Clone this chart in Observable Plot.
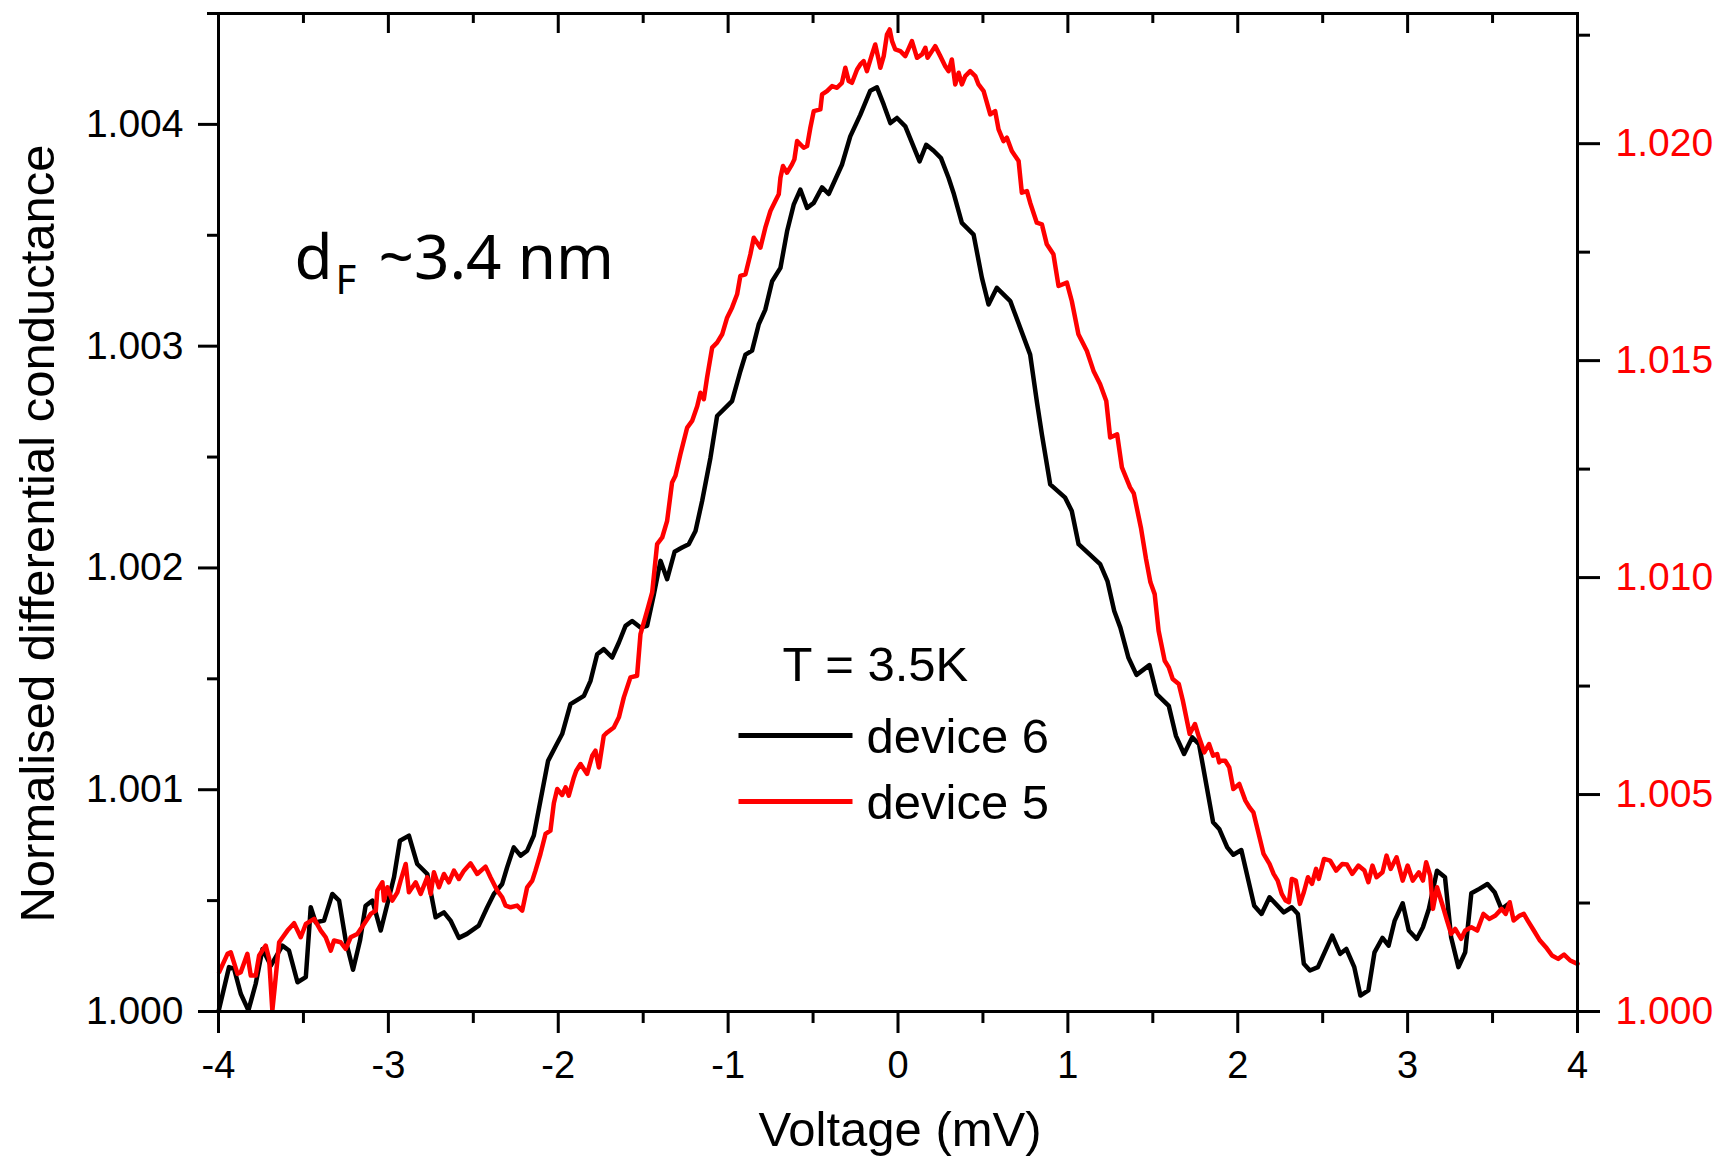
<!DOCTYPE html>
<html>
<head>
<meta charset="utf-8">
<script src="https://cdn.jsdelivr.net/npm/d3@7"></script>
<script src="https://cdn.jsdelivr.net/npm/@observablehq/plot@0.6"></script>
<style>
  html, body { margin: 0; padding: 0; background: #fff; }
  #chart svg { display: block; }
</style>
</head>
<body>
<div id="chart"></div>
<script>
// ---------------- DATA ----------------
// Voltage (mV) for device 6 (black, left axis)
const voltage6 = [
  -4.000,-3.938,-3.908,-3.869,-3.824,-3.781,-3.741,-3.692,-3.624,-3.585,
  -3.535,-3.486,-3.457,-3.428,-3.379,-3.330,-3.290,-3.251,-3.208,-3.167,
  -3.134,-3.094,-3.045,-2.996,-2.967,-2.932,-2.879,-2.830,-2.771,-2.722,
  -2.673,-2.634,-2.585,-2.537,-2.468,-2.418,-2.379,-2.330,-2.301,-2.262,
  -2.222,-2.183,-2.144,-2.105,-2.060,-2.016,-1.977,-1.928,-1.849,-1.810,
  -1.771,-1.732,-1.683,-1.643,-1.604,-1.565,-1.516,-1.477,-1.437,-1.398,
  -1.359,-1.315,-1.271,-1.232,-1.192,-1.153,-1.104,-1.065,-0.977,-0.928,
  -0.898,-0.859,-0.820,-0.781,-0.741,-0.692,-0.653,-0.614,-0.575,-0.535,
  -0.496,-0.447,-0.408,-0.330,-0.281,-0.222,-0.163,-0.124,-0.084,-0.045,
  -0.006,0.043,0.127,0.166,0.210,0.253,0.298,0.327,0.376,0.445,
  0.494,0.533,0.582,0.661,0.778,0.817,0.847,0.896,0.984,1.023,
  1.063,1.190,1.233,1.273,1.309,1.356,1.404,1.480,1.523,1.594,
  1.636,1.684,1.732,1.772,1.855,1.891,1.938,1.974,2.021,2.097,
  2.140,2.187,2.271,2.318,2.354,2.389,2.425,2.472,2.556,2.603,
  2.639,2.686,2.722,2.769,2.805,2.852,2.888,2.924,2.971,3.007,
  3.054,3.090,3.125,3.173,3.220,3.256,3.299,3.339,3.375,3.422,
  3.470,3.512,3.553,3.593
];
// Normalised conductance of device 6, in units of 1e-3 above 1
const dG6milli = [
  0.000,0.200,0.192,0.080,0.005,0.125,0.282,0.207,0.297,0.275,
  0.132,0.155,0.470,0.402,0.410,0.530,0.500,0.320,0.188,0.320,
  0.477,0.500,0.365,0.515,0.605,0.770,0.793,0.665,0.620,0.425,
  0.447,0.410,0.332,0.350,0.387,0.470,0.530,0.575,0.650,0.740,
  0.703,0.725,0.793,0.950,1.130,1.195,1.251,1.386,1.423,1.491,
  1.611,1.634,1.596,1.664,1.739,1.761,1.731,1.739,1.881,2.032,
  1.949,2.073,2.092,2.107,2.167,2.302,2.497,2.685,2.752,2.887,
  2.962,2.980,3.098,3.165,3.293,3.353,3.518,3.638,3.706,3.623,
  3.646,3.716,3.686,3.818,3.946,4.043,4.152,4.167,4.089,4.006,
  4.029,3.991,3.833,3.908,3.881,3.848,3.758,3.691,3.556,3.503,
  3.308,3.188,3.263,3.203,2.962,2.752,2.602,2.377,2.317,2.257,
  2.107,2.017,1.941,1.806,1.731,1.596,1.518,1.562,1.431,1.378,
  1.243,1.161,1.236,1.206,0.853,0.823,0.740,0.707,0.728,0.477,
  0.440,0.515,0.447,0.470,0.440,0.215,0.185,0.200,0.342,0.260,
  0.282,0.200,0.072,0.095,0.267,0.332,0.297,0.410,0.488,0.365,
  0.327,0.380,0.462,0.635,0.605,0.335,0.200,0.267,0.533,0.553,
  0.575,0.538,0.462,0.485
];
// Voltage (mV) for device 5 (red, right axis)
const voltage5 = [
  -3.996,-3.947,-3.928,-3.888,-3.869,-3.830,-3.810,-3.781,-3.761,-3.722,
  -3.702,-3.683,-3.669,-3.643,-3.594,-3.555,-3.516,-3.486,-3.437,-3.398,
  -3.369,-3.339,-3.320,-3.281,-3.251,-3.222,-3.183,-3.143,-3.104,-3.074,
  -3.065,-3.035,-3.026,-3.006,-2.977,-2.947,-2.928,-2.898,-2.879,-2.839,
  -2.810,-2.771,-2.751,-2.732,-2.702,-2.673,-2.644,-2.614,-2.585,-2.555,
  -2.516,-2.477,-2.428,-2.399,-2.359,-2.330,-2.310,-2.281,-2.242,-2.212,
  -2.183,-2.153,-2.134,-2.105,-2.075,-2.046,-2.026,-2.006,-1.977,-1.957,
  -1.938,-1.908,-1.894,-1.869,-1.830,-1.800,-1.781,-1.761,-1.732,-1.712,
  -1.673,-1.643,-1.614,-1.575,-1.536,-1.516,-1.477,-1.447,-1.418,-1.388,
  -1.359,-1.330,-1.310,-1.281,-1.241,-1.212,-1.182,-1.163,-1.143,-1.124,
  -1.094,-1.065,-1.035,-1.006,-0.977,-0.947,-0.928,-0.898,-0.869,-0.849,
  -0.810,-0.781,-0.751,-0.722,-0.702,-0.692,-0.677,-0.653,-0.624,-0.610,
  -0.594,-0.555,-0.535,-0.516,-0.496,-0.457,-0.447,-0.418,-0.388,-0.359,
  -0.330,-0.310,-0.290,-0.271,-0.241,-0.222,-0.202,-0.183,-0.153,-0.134,
  -0.114,-0.104,-0.084,-0.065,-0.049,-0.035,-0.016,0.014,0.043,0.082,
  0.112,0.141,0.161,0.174,0.200,0.219,0.249,0.278,0.298,0.317,
  0.337,0.357,0.376,0.396,0.425,0.455,0.474,0.504,0.543,0.572,
  0.592,0.621,0.641,0.670,0.710,0.729,0.759,0.778,0.817,0.847,
  0.876,0.915,0.945,0.994,1.023,1.062,1.112,1.151,1.190,1.226,
  1.249,1.290,1.318,1.366,1.388,1.430,1.460,1.486,1.511,1.534,
  1.570,1.594,1.617,1.653,1.677,1.701,1.717,1.748,1.772,1.803,
  1.831,1.855,1.879,1.891,1.902,1.926,1.950,1.974,2.009,2.045,
  2.069,2.092,2.128,2.152,2.187,2.211,2.235,2.259,2.282,2.301,
  2.318,2.342,2.366,2.389,2.413,2.437,2.461,2.477,2.508,2.544,
  2.579,2.615,2.643,2.674,2.710,2.746,2.769,2.793,2.817,2.852,
  2.876,2.900,2.935,2.971,3.000,3.030,3.066,3.090,3.109,3.133,
  3.149,3.173,3.209,3.232,3.256,3.280,3.315,3.339,3.375,3.410,
  3.446,3.482,3.517,3.553,3.577,3.601,3.624,3.660,3.684,3.707,
  3.743,3.779,3.814,3.850,3.886,3.921,3.957,4.000
];
// Normalised conductance of device 5, in units of 1e-3 above 1
const dG5milli = [
  0.906,1.328,1.366,0.867,0.906,1.328,0.829,0.829,1.289,1.520,
  1.213,0.023,0.560,1.596,1.865,2.034,1.711,2.018,2.134,1.865,
  1.711,1.404,1.635,1.596,1.443,1.711,1.788,2.018,2.249,2.325,
  2.786,2.978,2.556,2.863,2.556,2.747,3.016,3.400,2.747,2.978,
  2.709,3.093,2.709,3.208,2.863,3.170,2.978,3.246,3.054,3.246,
  3.415,3.170,3.338,3.093,2.786,2.632,2.441,2.402,2.441,2.325,
  2.863,3.016,3.246,3.630,4.091,4.167,4.800,5.127,4.990,5.165,
  4.975,5.395,5.550,5.704,5.474,5.894,6.011,5.625,6.355,6.431,
  6.546,6.779,7.239,7.700,7.738,8.698,9.235,9.658,10.771,10.924,
  11.308,12.191,12.345,12.844,13.458,13.611,13.950,14.260,14.110,14.609,
  15.300,15.415,15.607,15.991,16.221,16.529,16.951,16.989,17.450,17.833,
  17.603,18.064,18.448,18.678,18.832,19.215,19.484,19.331,19.523,19.638,
  20.060,19.906,19.945,20.367,20.751,20.789,21.135,21.211,21.327,21.288,
  21.403,21.749,21.442,21.403,21.711,21.826,21.903,21.672,22.056,22.286,
  21.941,21.749,22.018,22.516,22.632,22.363,22.171,22.133,22.018,22.363,
  21.979,22.056,22.209,21.979,22.133,22.248,22.018,21.787,21.672,21.941,
  21.365,21.634,21.365,21.557,21.672,21.557,21.365,21.211,20.674,20.751,
  20.329,20.060,20.137,19.830,19.599,18.870,18.908,18.640,18.179,18.141,
  17.680,17.450,16.720,16.797,16.375,15.607,15.223,14.763,14.456,14.070,
  13.227,13.300,12.540,12.080,11.940,11.150,10.430,9.890,9.619,8.775,
  8.084,7.930,7.662,7.546,7.163,6.702,6.395,6.625,6.318,5.973,
  6.165,5.896,5.934,5.742,5.781,5.781,5.627,5.128,5.243,4.860,
  4.706,4.591,4.015,3.631,3.401,3.171,3.017,2.710,2.556,2.518,
  3.055,3.017,2.480,2.748,3.094,2.940,3.286,3.055,3.516,3.478,
  3.247,3.401,3.386,3.171,3.363,3.247,2.979,3.363,3.094,3.209,
  3.593,3.286,3.554,3.017,3.363,3.017,3.209,3.017,3.439,3.132,
  2.365,2.864,2.403,2.096,1.789,1.904,1.674,1.866,1.942,1.866,
  2.249,2.134,2.211,2.365,2.249,2.518,2.096,2.211,2.249,2.096,
  1.866,1.635,1.482,1.290,1.213,1.313,1.175,1.098
];

// Tick values
const xMajor = [-4, -3, -2, -1, 0, 1, 2, 3, 4];
const xMinor = [-3.5, -2.5, -1.5, -0.5, 0.5, 1.5, 2.5, 3.5];
const yLeftMajor = [1.000, 1.001, 1.002, 1.003, 1.004];
const yLeftMinor = [1.0005, 1.0015, 1.0025, 1.0035, 1.0045];
const yRightMajor = [1.000, 1.005, 1.010, 1.015, 1.020];
const yRightMinor = [1.0025, 1.0075, 1.0125, 1.0175, 1.0225];

// Texts
const seriesNames = ["device 6", "device 5"];
const xTitle = "Voltage (mV)";
const yTitle = "Normalised differential conductance";
const tempLabel = "T = 3.5K";
const thicknessLabel = ["d", "F", "~3.4 nm"];

// Axis ranges
const LEFT_MAX = 1.0045;
const RIGHT_MAX = 1.023;

// ---------------- CHART ----------------
const toLeft = r => 1 + (r - 1) * (LEFT_MAX - 1) / (RIGHT_MAX - 1);
const toRight = l => 1 + (l - 1) * (RIGHT_MAX - 1) / (LEFT_MAX - 1);

const device6 = voltage6.map((v, i) => ({V: v, G: 1 + dG6milli[i] / 1000}));
const device5 = voltage5.map((v, i) => ({V: v, G: 1 + dG5milli[i] / 1000}));

const W = 1733, H = 1160;
const mL = 218, mR = 156, mT = 13, mB = 149;
const frameH = H - mT - mB;
const RED = "#ff0000";
const sans = "'Liberation Sans', Arial, Helvetica, sans-serif";
const hand = "'Noto Sans', 'Open Sans', sans-serif";

const legendSymbol = {
  draw(ctx) { ctx.moveTo(-57, 0); ctx.lineTo(57, 0); }
};

const chart = Plot.plot({
  width: W, height: H,
  marginLeft: mL, marginRight: mR, marginTop: mT, marginBottom: mB,
  style: {fontFamily: sans, background: "#fff", color: "#000", overflow: "visible"},
  x: {domain: [-4, 4], label: null},
  y: {domain: [1, LEFT_MAX], label: null},
  marks: [
    // bottom axis
    Plot.axisX({ticks: xMajor, anchor: "bottom", tickSize: 22, tickPadding: 18, strokeWidth: 3,
      fontSize: 38, tickFormat: d => String(d), label: null}),
    Plot.axisX({ticks: xMinor, anchor: "bottom", tickSize: 12, strokeWidth: 3,
      tickFormat: () => "", label: null}),
    // top (mirror) inward ticks
    Plot.ruleX(xMajor, {x: d => d, insetBottom: frameH - 20, strokeWidth: 3}),
    Plot.ruleX(xMinor, {x: d => d, insetBottom: frameH - 10, strokeWidth: 3}),
    // left axis
    Plot.axisY({ticks: yLeftMajor, anchor: "left", tickSize: 20, tickPadding: 15, strokeWidth: 3,
      fontSize: 39, tickFormat: d => d.toFixed(3), label: null}),
    Plot.axisY({ticks: yLeftMinor, anchor: "left", tickSize: 11, strokeWidth: 3,
      tickFormat: () => "", label: null}),
    // right axis (device 5 scale)
    Plot.axisY({ticks: yRightMajor.map(toLeft), anchor: "right", tickSize: 22, tickPadding: 16, strokeWidth: 3,
      fontSize: 39, fill: RED, stroke: "#000", tickFormat: d => toRight(d).toFixed(3), label: null}),
    Plot.axisY({ticks: yRightMinor.map(toLeft), anchor: "right", tickSize: 12, strokeWidth: 3,
      tickFormat: () => "", label: null}),
    // data
    Plot.line(device6, {x: "V", y: "G", stroke: "#000", strokeWidth: 4.5}),
    Plot.line(device5, {x: "V", y: d => toLeft(d.G), stroke: RED, strokeWidth: 4.5}),
    Plot.frame({strokeWidth: 3}),
    // axis titles
    Plot.text([yTitle], {frameAnchor: "left", rotate: -90, dx: -165, dy: 21, fontSize: 49,
      lineAnchor: "bottom", textAnchor: "middle", fill: "#000"}),
    Plot.text([xTitle], {frameAnchor: "bottom", dx: 2, dy: 134, fontSize: 49,
      lineAnchor: "bottom", textAnchor: "middle", fill: "#000"}),
    // annotations
    Plot.text([thicknessLabel[0]], {frameAnchor: "top-left", dx: 76, dy: 265, fontSize: 62,
      fontFamily: hand, lineAnchor: "bottom", textAnchor: "start", fill: "#000"}),
    Plot.text([thicknessLabel[1]], {frameAnchor: "top-left", dx: 117, dy: 280, fontSize: 40,
      fontFamily: hand, lineAnchor: "bottom", textAnchor: "start", fill: "#000"}),
    Plot.text([thicknessLabel[2]], {frameAnchor: "top-left", dx: 160, dy: 265, fontSize: 62,
      fontFamily: hand, lineAnchor: "bottom", textAnchor: "start", fill: "#000"}),
    Plot.text([tempLabel], {frameAnchor: "top-left", dx: 564, dy: 667, fontSize: 49,
      lineAnchor: "bottom", textAnchor: "start", fill: "#000"}),
    // legend
    Plot.dot([seriesNames[0]], {frameAnchor: "top-left", dx: 577, dy: 722, symbol: legendSymbol,
      fill: "none", stroke: "#000", strokeWidth: 5, r: 5}),
    Plot.dot([seriesNames[1]], {frameAnchor: "top-left", dx: 577, dy: 788, symbol: legendSymbol,
      fill: "none", stroke: RED, strokeWidth: 5, r: 5}),
    Plot.text([seriesNames[0]], {frameAnchor: "top-left", dx: 648, dy: 739, fontSize: 49,
      lineAnchor: "bottom", textAnchor: "start", fill: "#000"}),
    Plot.text([seriesNames[1]], {frameAnchor: "top-left", dx: 648, dy: 805, fontSize: 49,
      lineAnchor: "bottom", textAnchor: "start", fill: "#000"})
  ]
});

document.getElementById("chart").appendChild(chart);
</script>
</body>
</html>
